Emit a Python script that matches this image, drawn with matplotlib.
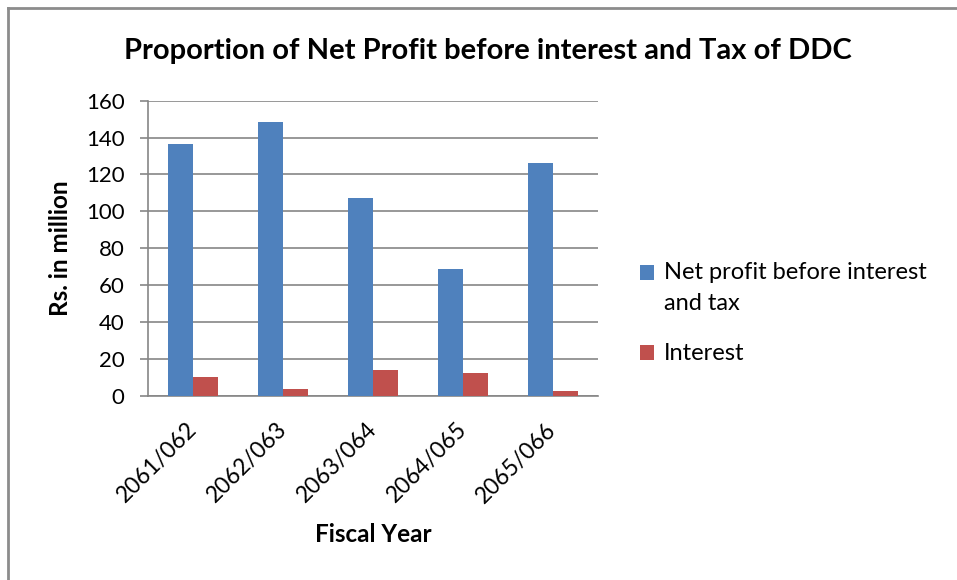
import numpy as np
import matplotlib
matplotlib.use("Agg")
import matplotlib.pyplot as plt
from matplotlib.lines import Line2D

plt.rcParams['font.family'] = ['Lato', 'DejaVu Sans']

years = ['2061/062', '2062/063', '2063/064', '2064/065', '2065/066']
net_profit = [136.3, 148.4, 107.4, 68.9, 126.0]
interest = [10.1, 3.6, 13.8, 12.5, 2.4]

blue = '#4F81BD'
red = '#C0504D'
grid_col = '#868686'

fig = plt.figure(figsize=(9.57, 5.8), dpi=100)
ax = fig.add_axes([148 / 957, 1 - 395.7 / 580, 450 / 957, 295 / 580])

x = np.arange(len(years))
w = 0.28
ax.bar(x - w / 2, net_profit, w, color=blue, label='Net profit before interest\nand tax', zorder=3)
ax.bar(x + w / 2, interest, w, color=red, label='Interest', zorder=3)

ax.set_xlim(-0.5, len(years) - 0.5)
ax.set_ylim(0, 160)
ax.set_yticks(range(0, 161, 20))
ax.yaxis.grid(True, color=grid_col, linewidth=1.2, zorder=0)
ax.set_axisbelow(True)

for s in ['top', 'right']:
    ax.spines[s].set_visible(False)
ax.spines['left'].set_color(grid_col)
ax.spines['bottom'].set_color(grid_col)
ax.spines['left'].set_linewidth(1.2)
ax.spines['bottom'].set_linewidth(1.2)

ax.tick_params(axis='y', length=5.8, width=1.2, color=grid_col, labelsize=16, pad=11)
ax.tick_params(axis='x', length=0, labelsize=16.5, pad=22)
ax.set_xticks(x)
ax.set_xticklabels(years, rotation=45, ha='right', va='center', rotation_mode='anchor')

ax.set_ylabel('Rs. in million', fontsize=17.5, fontweight='bold')
ax.set_xlabel('Fiscal Year', fontsize=17.5, fontweight='bold')
ax.xaxis.set_label_coords(0.5, 1 - (535 - 100.7) / 295)
ax.xaxis.label.set_va('center')
ax.yaxis.set_label_coords(-(148 - 61) / 450, 0.5)
ax.yaxis.label.set_va('center')

fig.text(488 / 957, 1 - 51 / 580, 'Proportion of Net Profit before interest and Tax of DDC',
         ha='center', va='center', fontsize=21, fontweight='bold')

leg = ax.legend(loc='upper left', bbox_to_anchor=(619 / 957, 1 - 241 / 580),
                bbox_transform=fig.transFigure, frameon=False, fontsize=17,
                handlelength=0.6, handleheight=0.6, handletextpad=0.4, labelspacing=1.26)
for t in leg.get_texts():
    t.set_linespacing(1.55)
# keep the first swatch level with the first line of its two-line label
sw = leg.legend_handles[0]
sw.set_y(sw.get_y() + 11.5)

# chart frame lines (top and left edge)
fig.add_artist(Line2D([8 / 957, 1], [1 - 7.5 / 580, 1 - 7.5 / 580], color='#8C8C8C', linewidth=2,
                      transform=fig.transFigure))
fig.add_artist(Line2D([8 / 957, 8 / 957], [0, 1 - 7.5 / 580], color='#8C8C8C', linewidth=2,
                      transform=fig.transFigure))

fig.savefig('out.png', dpi=100)
